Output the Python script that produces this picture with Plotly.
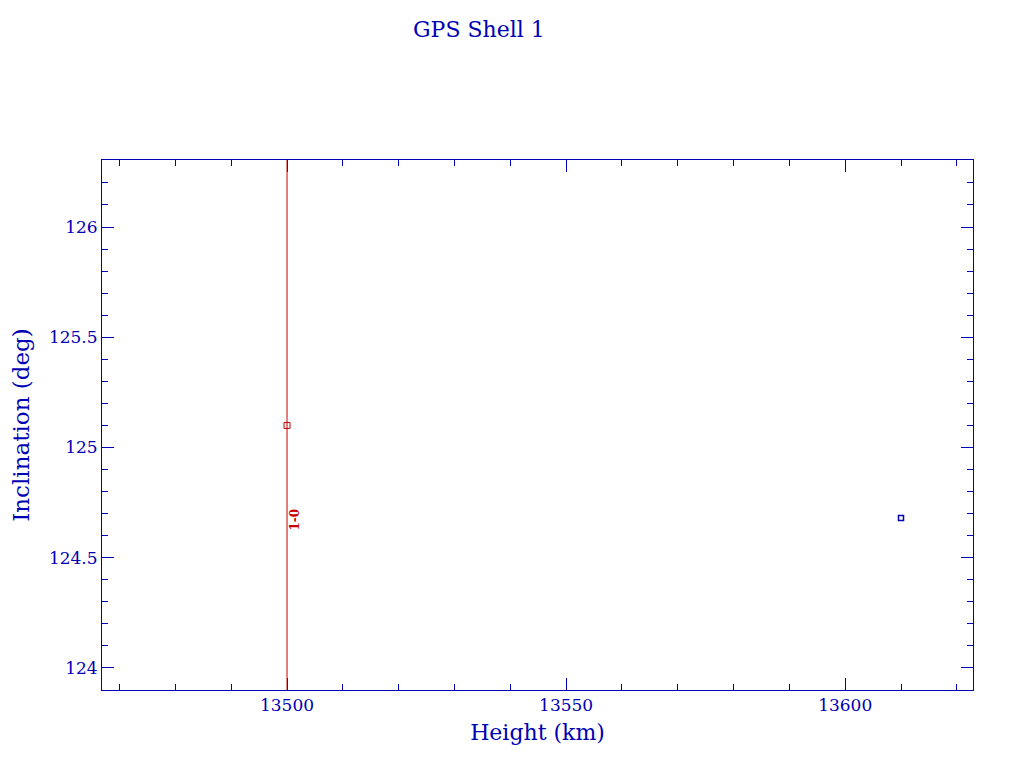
import plotly.graph_objects as go

# Data
red_height = [13500]
red_incl = [125.1]
blue_height = [13610]
blue_incl = [124.68]
line_height = 13500
label_text = "1-0"
label_height = 13501.5
label_incl = 124.675

x_range = [13466.85, 13622.9]
y_range = [123.9, 126.304]

BLUE = "#0000b4"
RED = "#c80000"
FONT = "DejaVu Serif"

fig = go.Figure()
fig.add_trace(go.Scatter(x=red_height, y=red_incl, mode="markers",
                         marker=dict(symbol="square-open", size=6, color=RED, line=dict(width=1, color=RED)),
                         showlegend=False, hoverinfo="skip"))
fig.add_trace(go.Scatter(x=blue_height, y=blue_incl, mode="markers",
                         marker=dict(symbol="square-open", size=5, color=BLUE, line=dict(width=1.5, color=BLUE)),
                         showlegend=False, hoverinfo="skip"))
fig.add_vline(x=line_height, line=dict(color=RED, width=1))
fig.add_annotation(x=label_height, y=label_incl, text="<b>" + label_text + "</b>", showarrow=False,
                   textangle=-90, font=dict(family=FONT, size=12, color=RED))

axis_common = dict(
    showgrid=False, zeroline=False, showline=True, linecolor=BLUE, linewidth=1,
    ticks="inside", ticklen=12, tickcolor=BLUE, tickwidth=1, mirror="ticks",
    tickfont=dict(family=FONT, size=17, color=BLUE), automargin=False,
)
fig.update_xaxes(range=x_range, tick0=13500, dtick=50, tickformat="d",
                 minor=dict(dtick=10, ticklen=6, ticks="inside", tickcolor=BLUE),
                 title=dict(text="Height (km)", font=dict(family=FONT, size=22, color=BLUE), standoff=10),
                 **axis_common)
fig.update_yaxes(range=y_range, tick0=124, dtick=0.5,
                 minor=dict(dtick=0.1, ticklen=6, ticks="inside", tickcolor=BLUE),
                 title=dict(text="Inclination (deg)", font=dict(family=FONT, size=23, color=BLUE), standoff=16),
                 **axis_common)

fig.add_annotation(xref="paper", yref="paper", x=0.433, y=1.247, xanchor="center", yanchor="middle",
                   text="GPS Shell 1", showarrow=False, font=dict(family=FONT, size=22, color=BLUE))

fig.update_layout(width=1008, height=752, margin=dict(l=94, r=43, t=152, b=70),
                  paper_bgcolor="white", plot_bgcolor="white")
fig.write_html("out.html")
